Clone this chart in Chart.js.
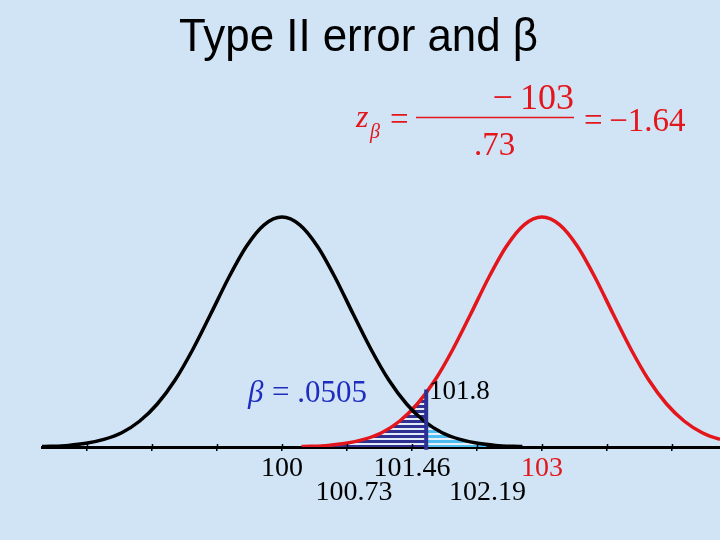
<!DOCTYPE html>
<html>
<head>
<meta charset="utf-8">
<script src="https://cdn.jsdelivr.net/npm/chart.js@4.4.1/dist/chart.umd.min.js"></script>
<style>
html, body { margin: 0; padding: 0; background: #d1e4f5; }
#wrap { width: 720px; height: 540px; }
</style>
</head>
<body>
<div id="wrap"><canvas id="mycanvas" width="720" height="540"></canvas></div>
<script>
// curve heights (peak = 1)
var blackX = [97.3, 97.4, 97.6, 97.8, 98.0, 98.2, 98.4, 98.6, 98.8, 99.0, 99.2, 99.4, 99.6, 99.8, 100.0,
              100.2, 100.4, 100.6, 100.8, 101.0, 101.2, 101.4, 101.6, 101.8, 102.0, 102.2, 102.4, 102.6, 102.7];
var blackY = [0.002, 0.003, 0.007, 0.016, 0.033, 0.062, 0.112, 0.187, 0.291, 0.425, 0.578, 0.735, 0.872, 0.966, 1.0,
              0.966, 0.872, 0.735, 0.578, 0.425, 0.291, 0.187, 0.112, 0.062, 0.033, 0.016, 0.007, 0.003, 0.002];
var redX = [100.22, 100.32, 100.52, 100.72, 100.92, 101.12, 101.32, 101.52, 101.72, 101.92, 102.12, 102.32, 102.52, 102.72, 102.92,
            103.12, 103.32, 103.52, 103.72, 103.92, 104.12, 104.32, 104.52, 104.72, 104.92, 105.12, 105.32, 105.52, 105.62];
var redY = [0.002, 0.003, 0.007, 0.016, 0.033, 0.062, 0.112, 0.187, 0.291, 0.425, 0.578, 0.735, 0.872, 0.966, 1.0,
            0.966, 0.872, 0.735, 0.578, 0.425, 0.291, 0.187, 0.112, 0.062, 0.033, 0.016, 0.007, 0.003, 0.002];
// shaded areas
var betaX = [100.22, 100.32, 100.52, 100.72, 100.92, 101.12, 101.32, 101.52, 101.62];
var betaY = [0.002, 0.003, 0.007, 0.016, 0.033, 0.062, 0.112, 0.187, 0.234];
var alphaX = [101.62, 101.8, 102.0, 102.2, 102.3];
var alphaY = [0.106, 0.062, 0.033, 0.016, 0.011];
var cutX = 101.62;
var cutY = [-0.012, 0.25];
// axis ticks, one per .73 (second row labels pushed down and a bit right)
var tickValues = [97.81, 98.54, 99.27, 100, 100.73, 101.46, 102.19, 102.92, 103.65, 104.38];
var tickLabels = ['', '', '', '100', ['', '\u2002100.73'], '101.46', ['', '\u2002 102.19'], '103', '', ''];

function pts(xs, ys) {
	var out = [];
	for (var i in xs) out.push({x: xs[i], y: ys[i]});
	return out;
}

function stripes(color, gap) {
	var c = document.createElement('canvas');
	c.width = 8; c.height = 5;
	var g = c.getContext('2d');
	g.fillStyle = gap; g.fillRect(0, 0, 8, 5);
	g.fillStyle = color; g.fillRect(0, 0, 8, 3);
	return g.createPattern(c, 'repeat');
}

var red = '#e3161c';
var navy = '#2e3192';

var slideText = {
	id: 'slideText',
	afterDraw: function(chart) {
		var ctx = chart.ctx;
		var xs = chart.scales.x;
		var base = chart.chartArea.bottom;
		ctx.save();

		// little tick marks above the axis too
		ctx.strokeStyle = '#000';
		ctx.lineWidth = 1.5;
		tickValues.forEach(function(v) {
			var px = Math.round(xs.getPixelForValue(v)) + 0.5;
			ctx.beginPath();
			ctx.moveTo(px, base - 3);
			ctx.lineTo(px, base);
			ctx.stroke();
		});

		ctx.textBaseline = 'alphabetic';
		ctx.textAlign = 'left';

		// title, squeezed a bit like the slide
		ctx.font = '46px "Liberation Sans"';
		var t = 'Type II error and β';
		var w = ctx.measureText(t).width;
		ctx.save();
		ctx.translate(179, 51);
		ctx.scale(359 / w, 1);
		ctx.fillStyle = '#000';
		ctx.fillText(t, 0, 0);
		ctx.restore();

		// formula
		ctx.fillStyle = red;
		ctx.font = 'italic 32px "Liberation Serif"';
		ctx.fillText('z', 356, 127);
		ctx.font = 'italic 20px "Liberation Serif"';
		ctx.fillText('β', 370, 138);
		ctx.font = '33px "Liberation Serif"';
		ctx.fillText('=', 390, 130);
		ctx.fillText('.73', 474, 155);
		ctx.fillText('=\u2009\u22121.64', 584, 131);
		ctx.font = '36px "Liberation Serif"';
		ctx.textAlign = 'right';
		ctx.fillText('\u2212\u2009103', 574, 109);
		ctx.textAlign = 'left';
		ctx.strokeStyle = red;
		ctx.lineWidth = 1.5;
		ctx.beginPath();
		ctx.moveTo(416, 117.5);
		ctx.lineTo(574, 117.5);
		ctx.stroke();

		// beta label
		ctx.fillStyle = '#1f2dbf';
		ctx.font = 'italic 31px "Liberation Serif"';
		ctx.fillText('β', 248, 402);
		ctx.font = '31px "Liberation Serif"';
		ctx.fillText('= .0505', 272, 402);

		ctx.fillStyle = '#000';
		ctx.font = '27px "Liberation Serif"';
		ctx.fillText('101.8', 429, 399);
		ctx.restore();
	}
};

var ctx = document.getElementById('mycanvas');

var chartdata = {
	datasets: [
		{
			data: pts([cutX, cutX], cutY),
			borderColor: navy,
			borderWidth: 4,
			pointRadius: 0,
			fill: false,
			clip: false
		},
		{
			data: pts(blackX, blackY),
			borderColor: '#000',
			borderWidth: 3.5,
			pointRadius: 0,
			cubicInterpolationMode: 'monotone',
			fill: false
		},
		{
			data: pts(redX, redY),
			borderColor: red,
			borderWidth: 3.5,
			pointRadius: 0,
			cubicInterpolationMode: 'monotone',
			fill: false
		},
		{
			data: pts(betaX, betaY),
			borderWidth: 0,
			pointRadius: 0,
			cubicInterpolationMode: 'monotone',
			backgroundColor: stripes(navy, '#e2ecf8'),
			fill: 'origin'
		},
		{
			data: pts(alphaX, alphaY),
			borderWidth: 0,
			pointRadius: 0,
			cubicInterpolationMode: 'monotone',
			backgroundColor: stripes('#4fbcef', '#e8f1fa'),
			fill: 'origin'
		}
	]
};

var chart = new Chart(ctx, {
	type: 'line',
	data: chartdata,
	plugins: [slideText],
	options: {
		responsive: false,
		animation: false,
		layout: { padding: { left: 42, right: 0, top: 148, bottom: 0 } },
		plugins: {
			legend: { display: false },
			tooltip: { enabled: false }
		},
		scales: {
			x: {
				type: 'linear',
				min: 97.305,
				max: 104.92,
				afterBuildTicks: function(scale) {
					scale.ticks = tickValues.map(function(v) { return {value: v}; });
				},
				afterFit: function(scale) { scale.height = 93; },
				border: { display: true, color: '#000', width: 3 },
				grid: { display: true, drawOnChartArea: false, drawTicks: true, tickLength: 4, color: '#000', lineWidth: 1.5 },
				ticks: {
					autoSkip: false,
					maxRotation: 0,
					minRotation: 0,
					padding: 5,
					font: { family: 'Liberation Serif', size: 28, lineHeight: 0.88 },
					color: function(c) { return c.index === 7 ? red : '#000'; },
					callback: function(value, index) { return tickLabels[index]; }
				}
			},
			y: {
				display: false,
				min: 0,
				max: 1.3
			}
		}
	}
});
</script>
</body>
</html>
